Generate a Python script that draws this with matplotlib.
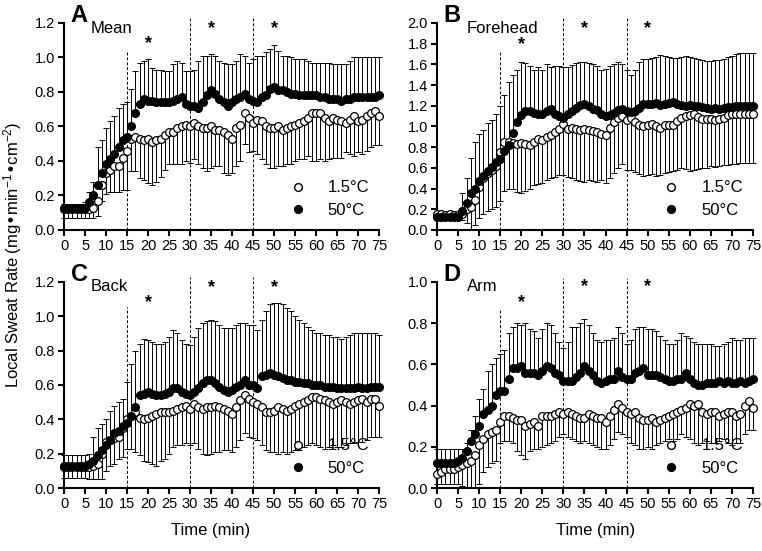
import numpy as np
import matplotlib
matplotlib.use("Agg")
import matplotlib.pyplot as plt
from matplotlib.lines import Line2D

plt.rcParams['font.family'] = ['Liberation Sans', 'DejaVu Sans']
plt.rcParams['mathtext.default'] = 'regular'

time = np.arange(0, 76)

# ---- Mean
mean_hot = [0.13, 0.13, 0.13, 0.13, 0.13, 0.13, 0.16, 0.20, 0.26, 0.33,
            0.38, 0.41, 0.44, 0.48, 0.52, 0.54, 0.60, 0.68, 0.73, 0.76,
            0.75, 0.75, 0.74, 0.74, 0.74, 0.74, 0.75, 0.76, 0.77, 0.73,
            0.72, 0.72, 0.71, 0.74, 0.78, 0.81, 0.79, 0.76, 0.74, 0.72,
            0.74, 0.76, 0.77, 0.79, 0.76, 0.75, 0.74, 0.77, 0.78, 0.82,
            0.83, 0.81, 0.81, 0.80, 0.79, 0.79, 0.78, 0.78, 0.78, 0.78,
            0.78, 0.77, 0.77, 0.76, 0.76, 0.76, 0.75, 0.76, 0.76, 0.77,
            0.77, 0.77, 0.77, 0.77, 0.77, 0.78]
mean_hot_hi = [0.15, 0.15, 0.15, 0.15, 0.15, 0.16, 0.22, 0.28, 0.48, 0.52,
               0.59, 0.63, 0.66, 0.71, 0.73, 0.74, 0.82, 0.92, 0.97, 0.98,
               0.99, 0.94, 0.93, 0.93, 0.92, 0.92, 0.96, 0.98, 0.97, 0.92,
               0.92, 0.93, 0.98, 1.01, 1.01, 1.02, 1.01, 0.98, 0.97, 0.96,
               0.96, 0.98, 1.02, 1.01, 0.97, 0.99, 1.01, 1.01, 1.03, 1.05,
               1.07, 1.04, 1.01, 1.01, 1.00, 0.99, 0.99, 0.99, 0.98, 0.97,
               0.97, 0.97, 0.97, 0.97, 0.96, 0.96, 0.96, 0.96, 0.98, 1.00,
               1.00, 1.00, 1.00, 1.00, 1.00, 1.00]
mean_cold = [0.12, 0.12, 0.12, 0.12, 0.12, 0.12, 0.12, 0.13, 0.17, 0.26,
             0.33, 0.35, 0.37, 0.37, 0.42, 0.46, 0.53, 0.54, 0.53, 0.52,
             0.53, 0.51, 0.52, 0.53, 0.55, 0.57, 0.57, 0.59, 0.60, 0.61,
             0.60, 0.62, 0.60, 0.59, 0.59, 0.60, 0.58, 0.58, 0.57, 0.55,
             0.53, 0.59, 0.61, 0.68, 0.65, 0.62, 0.64, 0.63, 0.60, 0.59,
             0.59, 0.60, 0.58, 0.59, 0.60, 0.61, 0.62, 0.63, 0.65, 0.68,
             0.68, 0.68, 0.65, 0.63, 0.65, 0.64, 0.63, 0.62, 0.64, 0.66,
             0.63, 0.64, 0.66, 0.68, 0.69, 0.66]
mean_cold_lo = [0.07, 0.07, 0.07, 0.07, 0.07, 0.07, 0.07, 0.07, 0.08, 0.17,
                0.21, 0.22, 0.22, 0.22, 0.23, 0.23, 0.34, 0.34, 0.30, 0.29,
                0.27, 0.26, 0.28, 0.31, 0.35, 0.38, 0.38, 0.38, 0.38, 0.40,
                0.39, 0.41, 0.38, 0.36, 0.34, 0.36, 0.37, 0.37, 0.33, 0.32,
                0.33, 0.37, 0.40, 0.50, 0.45, 0.46, 0.44, 0.41, 0.38, 0.36,
                0.36, 0.37, 0.37, 0.38, 0.38, 0.40, 0.41, 0.41, 0.43, 0.40,
                0.40, 0.41, 0.40, 0.41, 0.42, 0.42, 0.42, 0.45, 0.44, 0.43,
                0.45, 0.44, 0.46, 0.48, 0.49, 0.49]

# ---- Forehead
fore_hot = [0.13, 0.13, 0.13, 0.13, 0.13, 0.13, 0.18, 0.26, 0.36, 0.40,
            0.47, 0.52, 0.57, 0.61, 0.66, 0.69, 0.76, 0.82, 0.94, 1.04,
            1.11, 1.15, 1.15, 1.13, 1.12, 1.12, 1.15, 1.17, 1.12, 1.10,
            1.08, 1.12, 1.15, 1.18, 1.21, 1.22, 1.20, 1.17, 1.16, 1.12,
            1.10, 1.11, 1.13, 1.16, 1.17, 1.15, 1.14, 1.15, 1.18, 1.22,
            1.22, 1.22, 1.23, 1.21, 1.22, 1.23, 1.24, 1.22, 1.21, 1.20,
            1.21, 1.20, 1.20, 1.19, 1.18, 1.17, 1.18, 1.17, 1.18, 1.19,
            1.19, 1.20, 1.20, 1.20, 1.20, 1.20]
fore_hot_hi = [0.16, 0.16, 0.16, 0.16, 0.16, 0.17, 0.36, 0.50, 0.70, 0.85,
               0.93, 0.97, 1.03, 1.06, 1.12, 1.20, 1.30, 1.43, 1.50, 1.55,
               1.62, 1.61, 1.58, 1.55, 1.57, 1.55, 1.60, 1.57, 1.58, 1.58,
               1.57, 1.57, 1.59, 1.61, 1.62, 1.62, 1.61, 1.60, 1.58, 1.55,
               1.56, 1.58, 1.60, 1.62, 1.60, 1.55, 1.50, 1.55, 1.62, 1.65,
               1.65, 1.66, 1.67, 1.69, 1.68, 1.67, 1.66, 1.66, 1.67, 1.68,
               1.67, 1.66, 1.65, 1.64, 1.63, 1.63, 1.64, 1.64, 1.65, 1.67,
               1.68, 1.70, 1.71, 1.71, 1.71, 1.71]
fore_cold = [0.15, 0.15, 0.14, 0.15, 0.14, 0.14, 0.15, 0.20, 0.22, 0.29,
             0.42, 0.50, 0.55, 0.58, 0.62, 0.75, 0.85, 0.85, 0.84, 0.83,
             0.84, 0.83, 0.82, 0.85, 0.88, 0.87, 0.90, 0.92, 0.95, 0.98,
             1.02, 0.98, 0.99, 0.98, 0.97, 0.98, 0.97, 0.96, 0.95, 0.93,
             0.92, 0.99, 1.04, 1.08, 1.10, 1.06, 1.08, 1.04, 1.01, 1.00,
             1.01, 1.02, 1.00, 0.99, 1.01, 1.01, 1.01, 1.05, 1.08, 1.10,
             1.11, 1.12, 1.09, 1.07, 1.07, 1.07, 1.06, 1.07, 1.08, 1.11,
             1.12, 1.12, 1.12, 1.12, 1.12, 1.12]
fore_cold_lo = [0.10, 0.10, 0.10, 0.10, 0.10, 0.10, 0.10, 0.07, 0.00, 0.05,
                0.12, 0.15, 0.18, 0.20, 0.22, 0.28, 0.38, 0.40, 0.40, 0.37,
                0.36, 0.38, 0.40, 0.43, 0.44, 0.45, 0.48, 0.50, 0.51, 0.53,
                0.53, 0.51, 0.50, 0.48, 0.47, 0.46, 0.48, 0.47, 0.46, 0.48,
                0.45, 0.50, 0.55, 0.60, 0.64, 0.58, 0.58, 0.56, 0.54, 0.52,
                0.53, 0.54, 0.52, 0.53, 0.55, 0.56, 0.57, 0.58, 0.60, 0.59,
                0.57, 0.58, 0.59, 0.60, 0.60, 0.62, 0.61, 0.62, 0.63, 0.63,
                0.64, 0.64, 0.65, 0.65, 0.65, 0.65]

# ---- Back
back_hot = [0.13, 0.13, 0.13, 0.13, 0.13, 0.13, 0.14, 0.16, 0.19, 0.22,
            0.25, 0.28, 0.32, 0.33, 0.36, 0.38, 0.42, 0.47, 0.54, 0.55,
            0.56, 0.55, 0.54, 0.54, 0.55, 0.56, 0.58, 0.58, 0.56, 0.55,
            0.54, 0.56, 0.58, 0.61, 0.63, 0.63, 0.61, 0.59, 0.57, 0.56,
            0.57, 0.59, 0.60, 0.63, 0.60, 0.60, 0.58, 0.65, 0.66, 0.67,
            0.66, 0.65, 0.64, 0.63, 0.63, 0.62, 0.62, 0.61, 0.61, 0.60,
            0.60, 0.60, 0.59, 0.59, 0.59, 0.58, 0.58, 0.58, 0.58, 0.58,
            0.59, 0.58, 0.58, 0.59, 0.59, 0.59]
back_hot_hi = [0.19, 0.19, 0.19, 0.19, 0.19, 0.19, 0.20, 0.30, 0.35, 0.37,
               0.40, 0.45, 0.48, 0.50, 0.52, 0.62, 0.72, 0.80, 0.84, 0.87,
               0.86, 0.85, 0.84, 0.84, 0.85, 0.88, 0.92, 0.90, 0.86, 0.84,
               0.83, 0.88, 0.93, 0.96, 0.97, 0.98, 0.97, 0.95, 0.93, 0.93,
               0.93, 0.95, 0.96, 0.96, 0.95, 0.95, 0.92, 0.98, 1.03, 1.07,
               1.08, 1.08, 1.07, 1.05, 1.03, 1.00, 0.98, 0.96, 0.94, 0.92,
               0.90, 0.90, 0.89, 0.89, 0.88, 0.88, 0.87, 0.88, 0.89, 0.90,
               0.90, 0.90, 0.90, 0.90, 0.90, 0.89]
back_cold = [0.12, 0.12, 0.12, 0.12, 0.12, 0.12, 0.12, 0.13, 0.14, 0.20,
             0.27, 0.28, 0.29, 0.30, 0.35, 0.40, 0.42, 0.44, 0.41, 0.40,
             0.41, 0.42, 0.43, 0.44, 0.44, 0.44, 0.45, 0.46, 0.47, 0.48,
             0.46, 0.49, 0.47, 0.46, 0.47, 0.47, 0.48, 0.47, 0.46, 0.45,
             0.43, 0.47, 0.51, 0.54, 0.52, 0.50, 0.49, 0.47, 0.44, 0.44,
             0.45, 0.47, 0.46, 0.45, 0.46, 0.48, 0.49, 0.50, 0.51, 0.53,
             0.53, 0.52, 0.51, 0.50, 0.49, 0.50, 0.51, 0.50, 0.49, 0.50,
             0.51, 0.52, 0.50, 0.52, 0.52, 0.48]
back_cold_lo = [0.06, 0.06, 0.06, 0.06, 0.06, 0.06, 0.05, 0.05, 0.05, 0.05,
                0.10, 0.13, 0.14, 0.17, 0.18, 0.23, 0.23, 0.21, 0.19, 0.16,
                0.15, 0.14, 0.13, 0.16, 0.17, 0.20, 0.24, 0.25, 0.25, 0.26,
                0.25, 0.26, 0.23, 0.20, 0.19, 0.20, 0.21, 0.21, 0.22, 0.22,
                0.21, 0.24, 0.28, 0.32, 0.30, 0.29, 0.28, 0.25, 0.22, 0.21,
                0.21, 0.20, 0.21, 0.20, 0.21, 0.22, 0.22, 0.24, 0.25, 0.26,
                0.25, 0.24, 0.23, 0.24, 0.25, 0.24, 0.24, 0.25, 0.26, 0.26,
                0.27, 0.27, 0.28, 0.30, 0.30, 0.30]

# ---- Arm
arm_hot = [0.12, 0.12, 0.12, 0.12, 0.12, 0.13, 0.145, 0.18, 0.23, 0.26,
           0.30, 0.36, 0.38, 0.40, 0.45, 0.47, 0.47, 0.53, 0.58, 0.58,
           0.59, 0.56, 0.56, 0.56, 0.55, 0.57, 0.59, 0.58, 0.56, 0.55,
           0.52, 0.52, 0.52, 0.54, 0.56, 0.59, 0.57, 0.55, 0.52, 0.51,
           0.52, 0.53, 0.53, 0.57, 0.54, 0.53, 0.53, 0.56, 0.57, 0.58,
           0.55, 0.55, 0.55, 0.54, 0.53, 0.52, 0.52, 0.53, 0.53, 0.56,
           0.53, 0.51, 0.50, 0.50, 0.51, 0.51, 0.51, 0.52, 0.51, 0.52,
           0.51, 0.51, 0.52, 0.51, 0.52, 0.53]
arm_hot_hi = [0.19, 0.19, 0.19, 0.19, 0.19, 0.19, 0.19, 0.22, 0.28, 0.35,
              0.43, 0.48, 0.57, 0.60, 0.63, 0.65, 0.67, 0.75, 0.78, 0.80,
              0.79, 0.80, 0.77, 0.76, 0.73, 0.77, 0.80, 0.79, 0.75, 0.71,
              0.68, 0.71, 0.78, 0.78, 0.80, 0.82, 0.79, 0.75, 0.72, 0.71,
              0.72, 0.72, 0.73, 0.78, 0.75, 0.70, 0.72, 0.77, 0.78, 0.78,
              0.77, 0.77, 0.76, 0.74, 0.72, 0.70, 0.70, 0.72, 0.75, 0.74,
              0.73, 0.71, 0.70, 0.70, 0.70, 0.70, 0.69, 0.69, 0.70, 0.71,
              0.73, 0.72, 0.72, 0.73, 0.73, 0.73]
arm_cold = [0.07, 0.08, 0.09, 0.09, 0.09, 0.10, 0.11, 0.12, 0.13, 0.16,
            0.21, 0.24, 0.26, 0.27, 0.28, 0.32, 0.35, 0.35, 0.34, 0.33,
            0.33, 0.30, 0.31, 0.32, 0.30, 0.35, 0.35, 0.35, 0.36, 0.37,
            0.36, 0.37, 0.36, 0.35, 0.34, 0.34, 0.36, 0.35, 0.34, 0.34,
            0.32, 0.35, 0.38, 0.41, 0.39, 0.37, 0.36, 0.37, 0.34, 0.33,
            0.33, 0.34, 0.32, 0.33, 0.34, 0.35, 0.36, 0.37, 0.38, 0.39,
            0.41, 0.40, 0.41, 0.37, 0.36, 0.37, 0.37, 0.35, 0.36, 0.37,
            0.37, 0.35, 0.36, 0.40, 0.42, 0.39]
arm_cold_lo = [0.02, 0.02, 0.02, 0.02, 0.02, 0.02, 0.01, 0.00, 0.00, 0.00,
               0.02, 0.08, 0.10, 0.12, 0.13, 0.22, 0.23, 0.23, 0.22, 0.18,
               0.16, 0.14, 0.18, 0.19, 0.19, 0.20, 0.21, 0.22, 0.23, 0.25,
               0.26, 0.25, 0.24, 0.23, 0.22, 0.23, 0.22, 0.21, 0.20, 0.19,
               0.19, 0.21, 0.24, 0.27, 0.26, 0.25, 0.22, 0.21, 0.19, 0.19,
               0.20, 0.19, 0.21, 0.22, 0.23, 0.24, 0.23, 0.24, 0.26, 0.25,
               0.24, 0.22, 0.21, 0.22, 0.23, 0.22, 0.22, 0.23, 0.24, 0.22,
               0.21, 0.22, 0.22, 0.26, 0.28, 0.28]

letters = ['A', 'B', 'C', 'D']
sites = ['Mean', 'Forehead', 'Back', 'Arm']
legend_labels = ['1.5\u00b0C', '50\u00b0C']
star_times = [20, 35, 50]

# panel layout: [left, bottom, width, height], y max, y step, star heights, dashed-line tops
panels = [
    dict(rect=[0.0840, 0.5826, 0.4136, 0.3757], ymax=1.2, step=0.2,
         stars=[1.08, 1.17, 1.17], vtop=[1.045, 1.23, 1.23],
         hot=mean_hot, hot_hi=mean_hot_hi, cold=mean_cold, cold_lo=mean_cold_lo),
    dict(rect=[0.5735, 0.5826, 0.4147, 0.3757], ymax=2.0, step=0.2,
         stars=[1.79, 1.95, 1.95], vtop=[1.74, 2.05, 2.05],
         hot=fore_hot, hot_hi=fore_hot_hi, cold=fore_cold, cold_lo=fore_cold_lo),
    dict(rect=[0.0840, 0.1143, 0.4136, 0.374], ymax=1.2, step=0.2,
         stars=[1.08, 1.17, 1.17], vtop=[1.055, 1.23, 1.23],
         hot=back_hot, hot_hi=back_hot_hi, cold=back_cold, cold_lo=back_cold_lo),
    dict(rect=[0.5735, 0.1143, 0.4147, 0.374], ymax=1.0, step=0.2,
         stars=[0.90, 0.976, 0.976], vtop=[0.875, 1.02, 1.02],
         hot=arm_hot, hot_hi=arm_hot_hi, cold=arm_cold, cold_lo=arm_cold_lo),
]

fig = plt.figure(figsize=(7.62, 5.51), dpi=100)

for i, p in enumerate(panels):
    ax = fig.add_axes(p['rect'])
    hot = np.array(p['hot'])
    hot_err = np.array(p['hot_hi']) - hot
    cold = np.array(p['cold'])
    cold_err = cold - np.array(p['cold_lo'])

    # error bars: 50 C upward, 1.5 C downward
    ax.errorbar(time, hot, yerr=[np.zeros_like(hot), hot_err], fmt='none',
                ecolor='black', elinewidth=0.7, capsize=2.5, capthick=0.7,
                clip_on=False, zorder=2)
    ax.errorbar(time, cold, yerr=[cold_err, np.zeros_like(cold)], fmt='none',
                ecolor='black', elinewidth=0.7, capsize=2.5, capthick=0.7,
                clip_on=False, zorder=2)
    ax.plot(time, cold, 'o', ms=5.6, mfc='white', mec='black', mew=0.9,
            clip_on=False, zorder=3)
    ax.plot(time, hot, 'o', ms=5.6, mfc='black', mec='black', mew=0.9,
            clip_on=False, zorder=4)

    for t, top in zip([15, 30, 45], p['vtop']):
        ax.plot([t, t], [0, top], color='black', lw=0.7, ls=(0, (3, 2)),
                clip_on=False, zorder=1)
    for t, h in zip(star_times, p['stars']):
        ax.text(t, h, '*', ha='center', va='center', fontsize=13,
                fontweight='bold', clip_on=False)

    ax.set_xlim(0, 75)
    ax.set_ylim(0, p['ymax'])
    ax.set_xticks(np.arange(0, 76, 5))
    ax.set_yticks(np.arange(0, p['ymax'] + 0.001, p['step']))
    ax.yaxis.set_major_formatter(matplotlib.ticker.FormatStrFormatter('%.1f'))
    ax.spines['top'].set_visible(False)
    ax.spines['right'].set_visible(False)
    ax.spines['left'].set_linewidth(1.5)
    ax.spines['bottom'].set_linewidth(1.5)
    ax.tick_params(direction='out', length=4.5, width=1.5, pad=2)
    ax.tick_params(axis='y', labelsize=10.5)
    for lab in ax.get_xticklabels():
        lab.set_family(['Liberation Sans Narrow', 'Liberation Sans'])
        lab.set_fontsize(10.5)

    ax.text(0.048, 1.035, letters[i], transform=ax.transAxes, fontsize=17,
            fontweight='bold', ha='center', va='center')
    sx = 0.086 if i % 2 == 0 else 0.095
    sy = 0.971 if i < 2 else 0.976
    ax.text(sx, sy, sites[i], transform=ax.transAxes, fontsize=12,
            ha='left', va='center')

    handles = [Line2D([], [], ls='none', marker='o', ms=5.6, mfc='white', mec='black'),
               Line2D([], [], ls='none', marker='o', ms=5.6, mfc='black', mec='black')]
    ax.legend(handles, legend_labels, loc='lower right', bbox_to_anchor=(1.0, 0.01),
              frameon=False, fontsize=12, handlelength=1.0, handletextpad=1.3,
              labelspacing=0.45, borderaxespad=0.2)

fig.text(0.276, 0.038, 'Time (min)', ha='center', va='center', fontsize=12)
fig.text(0.781, 0.038, 'Time (min)', ha='center', va='center', fontsize=12)
fig.text(0.017, 0.537, 'Local Sweat Rate (mg\u2022min$^{-1}$\u2022cm$^{-2}$)',
         rotation=90, ha='center', va='center', fontsize=12)

fig.savefig('out.png', dpi=100)
